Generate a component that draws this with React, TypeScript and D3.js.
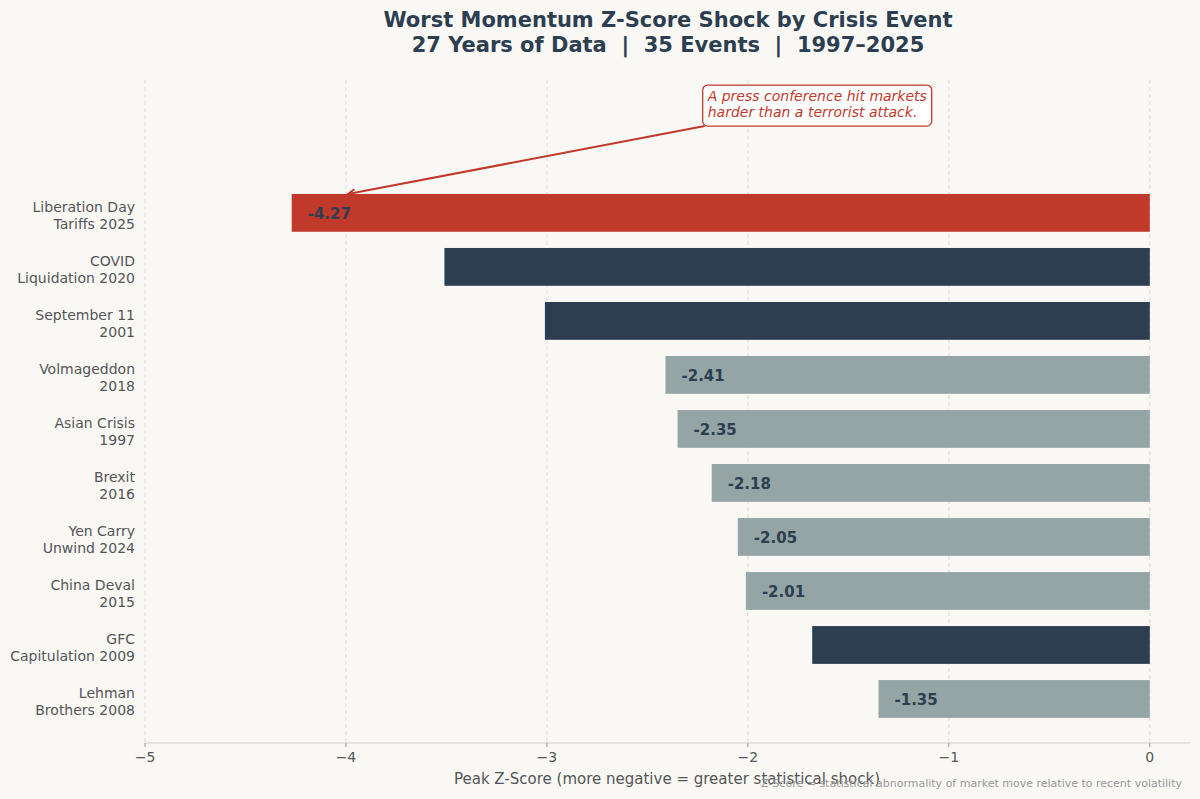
import React from "react";
import * as d3 from "d3";

// events listed top to bottom
const events = [
  "Liberation Day\nTariffs 2025",
  "COVID\nLiquidation 2020",
  "September 11\n2001",
  "Volmageddon\n2018",
  "Asian Crisis\n1997",
  "Brexit\n2016",
  "Yen Carry\nUnwind 2024",
  "China Deval\n2015",
  "GFC\nCapitulation 2009",
  "Lehman\nBrothers 2008",
];
const zScores = [-4.27, -3.51, -3.01, -2.41, -2.35, -2.18, -2.05, -2.01, -1.68, -1.35];
// highlight = the headline event, major = landmark crises, other = the rest
const groups = ["highlight", "major", "major", "other", "other", "other", "other", "other", "major", "other"];
const xTicks = [-5, -4, -3, -2, -1, 0];

const W = 1200;
const H = 799;
const BG = "#f9f8f5";
const INK = "#2c3e50";
const RED = "#c0392b";
const GREY = "#95a5a6";
const FONT = "DejaVu Sans, sans-serif";

const colorOf = d3
  .scaleOrdinal<string, string>()
  .domain(["highlight", "major", "other"])
  .range([RED, INK, GREY]);

export default function App() {
  const x = d3.scaleLinear().domain([-5, 0.2]).range([145, 1190]);
  // index 0 = bottom bar (Lehman), index 9 = top bar
  const y = d3.scaleLinear().domain([-0.815, 11.46]).range([743, 80]);
  const barH = y(0) - y(0.7);
  const n = events.length;
  const rows = events.map((name, i) => ({
    name,
    value: zScores[i],
    group: groups[i],
    pos: n - 1 - i,
  }));

  const tickFmt = (v: number) => (v < 0 ? "\u2212" + Math.abs(v) : String(v));

  // annotation geometry in data units
  const noteX = -2.2;
  const noteY = 11.07;
  const tipX = -4.0;
  const tipY = 9.35;
  const boxX = x(noteX) - 5;
  const boxY = y(noteY) - 16;
  const boxW = 229;
  const boxH = 41;
  const sx = boxX + 2;
  const sy = boxY + boxH;
  const tx = x(tipX) + 2;
  const ty = y(tipY);
  const ang = Math.atan2(ty - sy, tx - sx);
  const hl = 8;
  const head = [ang + Math.PI - 0.45, ang + Math.PI + 0.45].map((a) => [
    tx + hl * Math.cos(a),
    ty + hl * Math.sin(a),
  ]);

  return (
    <div style={{ position: "absolute", left: 0, top: 0 }}>
      <svg width={W} height={H} style={{ display: "block", background: BG }} fontFamily={FONT}>
        <rect width={W} height={H} fill={BG} />
        <text x={668} y={27} textAnchor="middle" fontSize={21} fontWeight="bold" fill={INK}>
          Worst Momentum Z-Score Shock by Crisis Event
        </text>
        <text
          x={668}
          y={52}
          textAnchor="middle"
          fontSize={21}
          fontWeight="bold"
          fill={INK}
          style={{ whiteSpace: "pre" }}
        >
          {"27 Years of Data  |  35 Events  |  1997–2025"}
        </text>

        {/* grid */}
        {xTicks.map((t) => (
          <line
            key={t}
            x1={x(t)}
            x2={x(t)}
            y1={80}
            y2={743}
            stroke="#dcdcdc"
            strokeWidth={1}
            strokeDasharray="4,3"
          />
        ))}

        {/* bars */}
        {rows.map((r) => (
          <g key={r.name}>
            <rect
              x={x(r.value)}
              y={y(r.pos) - barH / 2}
              width={x(0) - x(r.value)}
              height={barH}
              fill={colorOf(r.group)}
            />
            <text
              x={x(r.value) + 16}
              y={y(r.pos) + 6}
              fontSize={15}
              fontWeight="bold"
              fill={INK}
            >
              {r.value.toFixed(2)}
            </text>
            <text x={135} y={y(r.pos)} textAnchor="end" fontSize={14} fill="#555">
              {r.name.split("\n").map((ln, k) => (
                <tspan key={k} x={135} dy={k === 0 ? -1 : 17}>
                  {ln}
                </tspan>
              ))}
            </text>
          </g>
        ))}

        {/* x axis */}
        <line x1={145} x2={1190} y1={743} y2={743} stroke="#cccccc" strokeWidth={1.2} />
        {xTicks.map((t) => (
          <g key={"t" + t}>
            <line x1={x(t)} x2={x(t)} y1={743} y2={747} stroke="#999" />
            <text x={x(t)} y={762} textAnchor="middle" fontSize={14} fill="#555">
              {tickFmt(t)}
            </text>
          </g>
        ))}
        <text x={667} y={784} textAnchor="middle" fontSize={15} fill="#555">
          Peak Z-Score (more negative = greater statistical shock)
        </text>
        <text x={1182} y={787} textAnchor="end" fontSize={11} fill="#999">
          Z-Score = statistical abnormality of market move relative to recent volatility
        </text>

        {/* annotation */}
        <line x1={sx} y1={sy} x2={tx} y2={ty} stroke={RED} strokeWidth={2} />
        <polyline
          points={`${head[0][0]},${head[0][1]} ${tx},${ty} ${head[1][0]},${head[1][1]}`}
          fill="none"
          stroke={RED}
          strokeWidth={2}
        />
        <rect x={boxX} y={boxY} width={boxW} height={boxH} rx={5} fill="#fff" stroke={RED} strokeWidth={1.3} />
        <text x={x(noteX)} y={y(noteY)} fontSize={14} fontStyle="italic" fill={RED}>
          <tspan x={x(noteX)} dy={0}>A press conference hit markets</tspan>
          <tspan x={x(noteX)} dy={16}>harder than a terrorist attack.</tspan>
        </text>
      </svg>
    </div>
  );
}
